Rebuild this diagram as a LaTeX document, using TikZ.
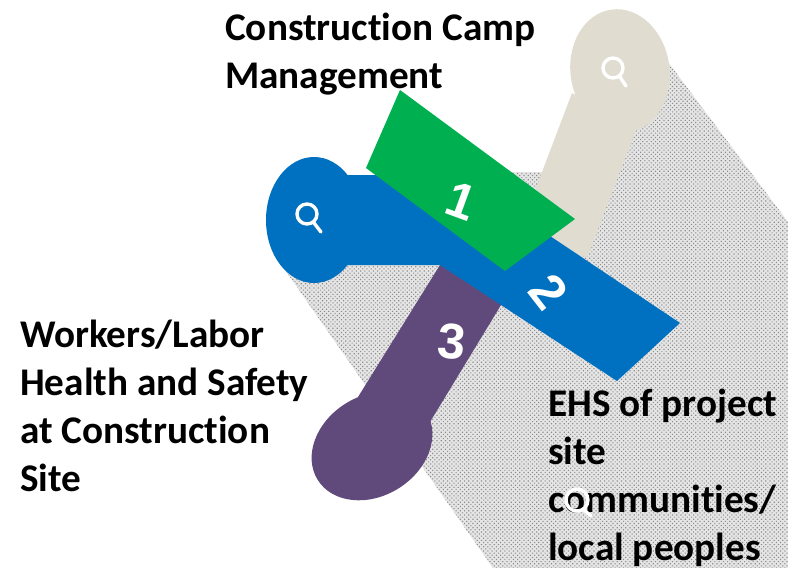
\documentclass[tikz,border=0pt]{standalone}
\usepackage{fontspec}
\setmainfont{Carlito}[Ligatures=NoCommon]
\newfontfamily\numfont{Liberation Sans}
\usetikzlibrary{patterns.meta}
\definecolor{cgreen}{HTML}{00B050}
\definecolor{cblue}{HTML}{0070C0}
\definecolor{cpurple}{HTML}{604A7B}
\definecolor{cbeige}{HTML}{E1DCD0}
\definecolor{cdot}{HTML}{8C8C8C}
\tikzset{
  label text/.style={font=\bfseries\fontsize{39.2}{47.8}\selectfont,align=left,anchor=north west,inner sep=0pt,text=black},
  num text/.style={font=\numfont\bfseries\fontsize{50}{50}\selectfont,text=white,inner sep=0pt},
  lens/.style={draw=white,line width=3.4pt,line cap=round},
  dither/.style={pattern={Dots[radius=.8pt,distance=3pt,angle=45]},pattern color=cdot}
}
\begin{document}
\begin{tikzpicture}[x=1pt,y=-1pt]
\useasboundingbox (0,0) rectangle (788,568);
% dithered shadow
\fill[white!90!black] (668,62) -- (788,222) -- (788,568) -- (493,568) -- (285,270) -- (330,200) -- (450,172) -- (560,172) -- (650,75) -- cycle;
\fill[dither] (668,62) -- (788,222) -- (788,568) -- (493,568) -- (285,270) -- (330,200) -- (450,172) -- (560,172) -- (650,75) -- cycle;
% beige
\fill[cbeige] (620,71) [rotate around={8:(620,71)}] ellipse (49.5 and 62);
\fill[cbeige] (572,93) -- (636,130) -- (587,258) -- (520,230) -- cycle;
% purple
\fill[cpurple] (372,446) [rotate around={32:(372,446)}] ellipse (64 and 50);
\fill[cpurple] (358,397) -- (440,265) -- (520,290) -- (501,305) -- (430,422) -- (400,460) -- cycle;
% blue
\fill[cblue] (314,220) ellipse (48 and 63);
\fill[cblue] (340,175) -- (380,175) -- (500,205) -- (553,238) -- (680,323) -- (617,381) -- (440,265) -- (340,265) -- cycle;
% green
\fill[cgreen] (400,90) -- (575,219) -- (505,271) -- (366,168) -- cycle;
% numbers
\node[num text,rotate=-20] (n1) at (461,201) {1};
\node[num text,rotate=-52] (n2) at (549,292) {2};
\node[num text,rotate=-5] (n3) at (452,342) {3};
% labels
\node[label text] (t1) at (225,13) {Construction Camp\\Management};
\node[label text] (t2) at (20,320) {Workers/Labor\\Health and Safety\\at Construction\\Site};
\node[label text] (t3) at (548,389) {EHS of project\\site\\communities/\\local peoples};
% magnifiers
\draw[lens] (613,68) circle (10);
\draw[lens] (620,77) -- (626,86);
\draw[lens] (307,214) circle (10);
\draw[lens] (314,223) -- (321,232);
\draw[lens] (577,500) circle (11);
\draw[lens] (584,510) -- (591,516);
\end{tikzpicture}
\end{document}
